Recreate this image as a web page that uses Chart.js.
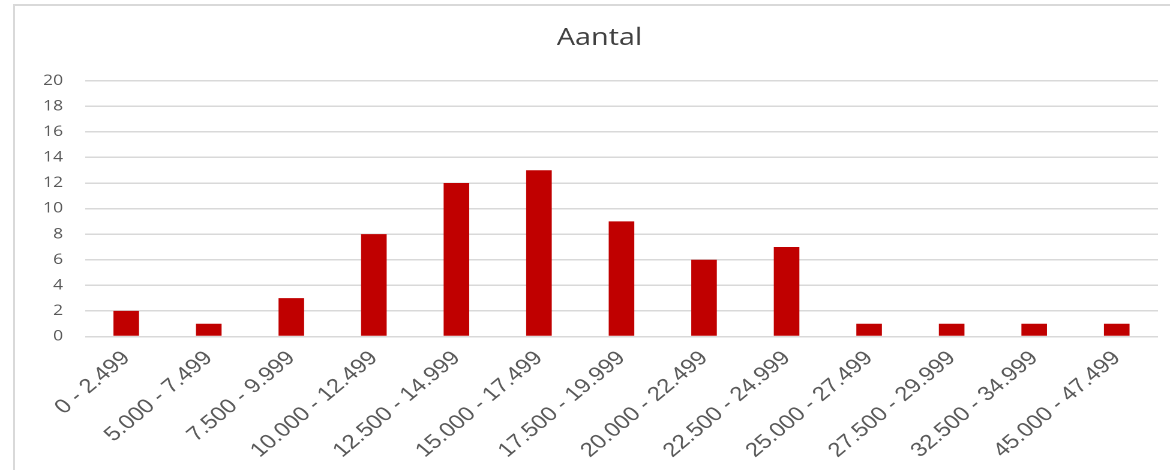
<!DOCTYPE html>
<html>
<head>
<meta charset="utf-8">
<script src="https://cdn.jsdelivr.net/npm/chart.js@4.4.1/dist/chart.umd.min.js"></script>
<style>
  html, body { margin: 0; padding: 0; background: #ffffff; }
  #wrap { position: relative; width: 1170px; height: 470px; overflow: hidden; background: #ffffff; }
  #frame { position: absolute; left: 13px; top: 4px; right: -10px; bottom: -10px;
           border-left: 2px solid #d9d9d9; border-top: 2px solid #d9d9d9; pointer-events: none; }
  #c { position: absolute; left: 0; top: 0; transform: scaleX(1.2); transform-origin: 0 0; }
</style>
</head>
<body>
<div id="wrap">
  <div id="frame"></div>
  <canvas id="c" width="975" height="470"></canvas>
</div>
<script>
const chartTitle = "Aantal";
const categories = ["0 - 2.499", "5.000 - 7.499", "7.500 - 9.999", "10.000 - 12.499", "12.500 - 14.999",
  "15.000 - 17.499", "17.500 - 19.999", "20.000 - 22.499", "22.500 - 24.999", "25.000 - 27.499",
  "27.500 - 29.999", "32.500 - 34.999", "45.000 - 47.499"];
const counts = [2, 1, 3, 8, 12, 13, 9, 6, 7, 1, 1, 1, 1];
const yMin = 0;
const yMax = 20;
const yStep = 2;

new Chart(document.getElementById("c"), {
  type: "bar",
  data: {
    labels: categories,
    datasets: [{
      label: chartTitle,
      data: counts,
      backgroundColor: "#C00000",
      borderWidth: 0,
      categoryPercentage: 1.0,
      barPercentage: 0.31
    }]
  },
  options: {
    responsive: false,
    animation: false,
    devicePixelRatio: 2,
    layout: { padding: { left: 34.2, right: 10, top: 0, bottom: 0 } },
    plugins: {
      legend: { display: false },
      tooltip: { enabled: false },
      title: {
        display: true,
        text: chartTitle,
        color: "#404040",
        font: { family: "'Open Sans'", size: 24, weight: "normal", lineHeight: 1.2 },
        padding: { top: 23.6, bottom: 28.3 }
      }
    },
    scales: {
      x: {
        grid: { display: false, drawTicks: false },
        border: { display: false },
        ticks: {
          color: "#595959",
          font: { family: "'Liberation Sans'", size: 20 },
          minRotation: 45,
          maxRotation: 45,
          autoSkip: false,
          padding: 10
        },
        afterFit: (s) => { s.height = 133.5; }
      },
      y: {
        min: yMin,
        max: yMax,
        grid: { color: "#d9d9d9", lineWidth: 1.5, drawTicks: false },
        border: { display: false },
        ticks: {
          stepSize: yStep,
          color: "#595959",
          font: { family: "'Open Sans'", size: 14.5 },
          padding: 18.3
        },
        afterFit: (s) => { s.width = 36.6; }
      }
    }
  }
});
</script>
</body>
</html>
